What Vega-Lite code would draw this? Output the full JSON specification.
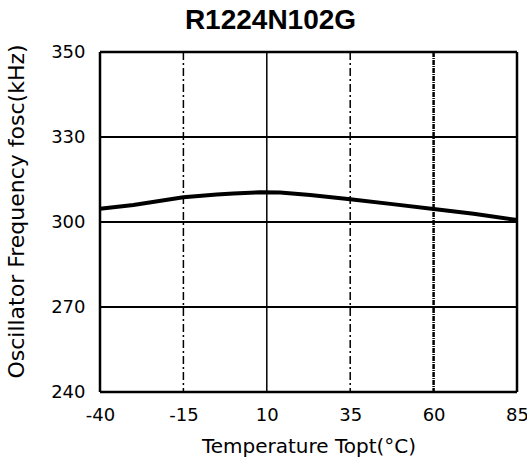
{
  "$schema": "https://vega.github.io/schema/vega-lite/v6.json",
  "width": 417,
  "height": 340,
  "autosize": {"type": "none"},
  "padding": {"left": 100, "top": 52, "right": 10, "bottom": 73},
  "background": "white",
  "config": {"view": {"stroke": null}, "font": "DejaVu Sans"},
  "title": {"text": "R1224N102G", "fontSize": 28, "fontWeight": "bold", "font": "Liberation Sans", "color": "black", "offset": 8, "anchor": "middle", "dx": -38},
  "datasets": {
    "curve": [
      {"temp": -40, "freq": 304.7},
      {"temp": -30, "freq": 306.0},
      {"temp": -15, "freq": 308.7},
      {"temp": -5, "freq": 309.7},
      {"temp": 0, "freq": 310.1},
      {"temp": 8, "freq": 310.5},
      {"temp": 14, "freq": 310.4},
      {"temp": 23, "freq": 309.5},
      {"temp": 35, "freq": 308.0},
      {"temp": 47, "freq": 306.4},
      {"temp": 60, "freq": 304.6},
      {"temp": 72, "freq": 302.9},
      {"temp": 85, "freq": 300.7}
    ],
    "hgrid": [{"freq": 270}, {"freq": 300}, {"freq": 330}],
    "hframe": [{"freq": 240}, {"freq": 350}],
    "vframe": [{"temp": -40}, {"temp": 85}],
    "vsolid": [{"temp": 10}],
    "vdashdot": [{"temp": -15}, {"temp": 35}],
    "vdense": [{"temp": 60}]
  },
  "layer": [
    {
      "data": {"name": "hgrid"},
      "mark": {"type": "rule", "color": "black", "strokeWidth": 2},
      "encoding": {"y": {"field": "freq", "type": "quantitative", "scale": {"domain": [240, 270, 300, 330, 350], "range": [340, 255, 170, 85, 0], "nice": false, "zero": false}}}
    },
    {
      "data": {"name": "vsolid"},
      "mark": {"type": "rule", "color": "black", "strokeWidth": 1.5},
      "encoding": {"x": {"field": "temp", "type": "quantitative", "scale": {"domain": [-40, 85], "nice": false, "zero": false}}}
    },
    {
      "data": {"name": "vdashdot"},
      "mark": {"type": "rule", "color": "black", "strokeWidth": 1.5, "strokeDash": [8, 3, 2, 3]},
      "encoding": {"x": {"field": "temp", "type": "quantitative"}}
    },
    {
      "data": {"name": "vdense"},
      "mark": {"type": "rule", "color": "black", "strokeWidth": 2.5, "strokeDash": [5, 1, 1, 1]},
      "encoding": {"x": {"field": "temp", "type": "quantitative"}}
    },
    {
      "data": {"name": "hframe"},
      "mark": {"type": "rule", "color": "black", "strokeWidth": 2.5},
      "encoding": {"y": {"field": "freq", "type": "quantitative"}}
    },
    {
      "data": {"name": "vframe"},
      "mark": {"type": "rule", "color": "black", "strokeWidth": 2.5},
      "encoding": {"x": {"field": "temp", "type": "quantitative"}}
    },
    {
      "data": {"name": "curve"},
      "mark": {"type": "line", "color": "black", "strokeWidth": 4},
      "encoding": {
        "x": {"field": "temp", "type": "quantitative", "axis": {"title": "Temperature Topt(°C)", "values": [-40, -15, 10, 35, 60, 85], "labelExpr": "'' + datum.value", "domain": false, "ticks": false, "grid": false, "labelFont": "DejaVu Sans", "labelFontSize": 18, "labelPadding": 14, "labelColor": "black", "titleFont": "DejaVu Sans", "titleFontSize": 20, "titleFontWeight": "normal", "titleColor": "black", "titlePadding": 12, "labelFlush": false}},
        "y": {"field": "freq", "type": "quantitative", "axis": {"title": "Oscillator Frequency fosc(kHz)", "values": [240, 270, 300, 330, 350], "domain": false, "ticks": false, "grid": false, "labelFont": "DejaVu Sans", "labelFontSize": 18, "labelPadding": 15, "labelColor": "black", "titleFont": "DejaVu Sans", "titleFontSize": 22, "titleFontWeight": "normal", "titleColor": "black", "titlePadding": 22, "titleY": 159}}
      }
    }
  ]
}
